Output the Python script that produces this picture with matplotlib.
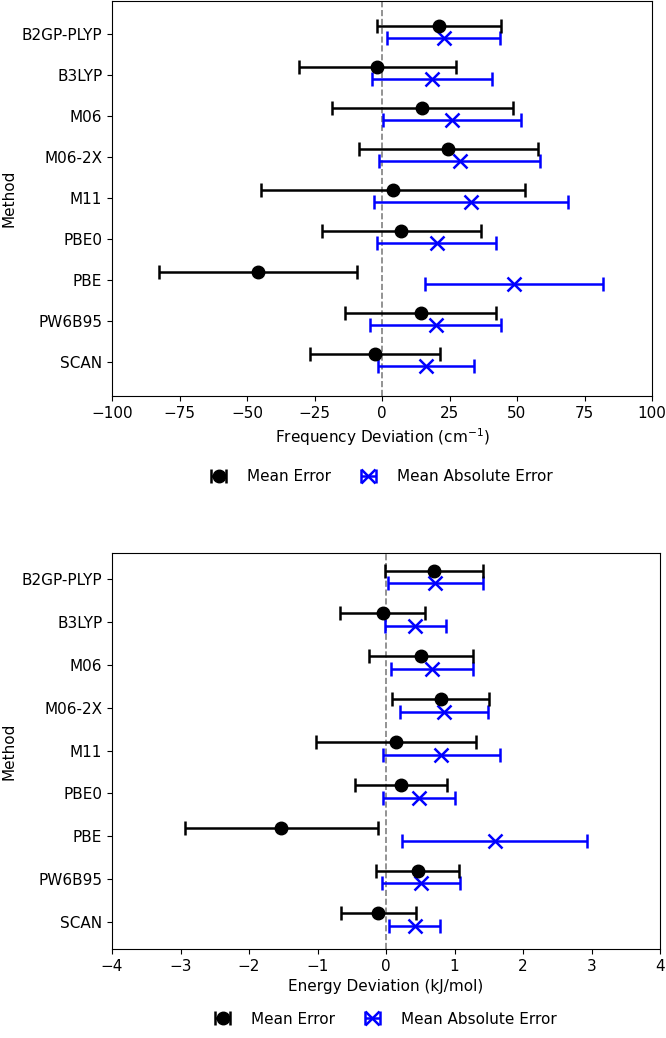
import matplotlib
matplotlib.use("Agg")
import matplotlib.pyplot as plt
import numpy as np

methods = ["B2GP-PLYP", "B3LYP", "M06", "M06-2X", "M11", "PBE0", "PBE", "PW6B95", "SCAN"]

# frequency deviations (cm^-1)
freq_me = [21.0, -1.7, 14.9, 24.5, 4.0, 7.2, -46.0, 14.3, -2.6]
freq_me_err = [22.9, 29.0, 33.5, 33.2, 48.8, 29.3, 36.6, 28.1, 24.1]
freq_mae = [22.8, 18.6, 25.9, 28.8, 33.1, 20.2, 48.9, 19.9, 16.2]
freq_mae_err = [20.9, 22.3, 25.7, 29.9, 35.9, 22.2, 32.8, 24.3, 17.8]

# energy deviations (kJ/mol)
en_me = [0.70, -0.05, 0.51, 0.80, 0.15, 0.22, -1.53, 0.46, -0.11]
en_me_err = [0.71, 0.62, 0.76, 0.71, 1.17, 0.67, 1.41, 0.61, 0.55]
en_mae = [0.72, 0.43, 0.67, 0.85, 0.81, 0.48, 1.59, 0.51, 0.42]
en_mae_err = [0.69, 0.45, 0.60, 0.64, 0.85, 0.52, 1.35, 0.57, 0.37]

fig = plt.figure(figsize=(6.66, 10.38), dpi=100)
ax1 = fig.add_axes([112/666, 642/1038, 540/666, 395/1038])
ax2 = fig.add_axes([112/666, 89/1038, 548/666, 396/1038])

y = np.arange(len(methods))[::-1]


def panel(ax, me, me_err, mae, mae_err, xlim, ylim, xlabel, leg_y):
    ax.axvline(0, color="gray", linestyle="--", linewidth=1.2, zorder=1)
    ax.errorbar(me, y + 0.2, xerr=me_err, fmt="o", color="black", ecolor="black",
                markersize=9, capsize=5, elinewidth=1.8, capthick=1.8, label="Mean Error", zorder=3)
    ax.errorbar(mae, y - 0.1, xerr=mae_err, fmt="x", color="blue", ecolor="blue",
                markersize=10, markeredgewidth=1.8, capsize=5, elinewidth=1.8, capthick=1.8,
                label="Mean Absolute Error", zorder=2)
    ax.set_yticks(y)
    ax.set_yticklabels(methods)
    ax.set_xlim(*xlim)
    ax.set_ylim(*ylim)
    ax.set_xlabel(xlabel, fontsize=11)
    ax.set_ylabel("Method", fontsize=11)
    ax.tick_params(labelsize=11)
    ax.legend(loc="center", bbox_to_anchor=(0.5, leg_y), ncol=2, frameon=False,
              fontsize=11, handlelength=0.9, handletextpad=1.4, columnspacing=2.0)


panel(ax1, freq_me, freq_me_err, freq_mae, freq_mae_err, (-100, 100), (-0.83, 8.80),
      "Frequency Deviation (cm$^{-1}$)", -0.205)
panel(ax2, en_me, en_me_err, en_mae, en_mae_err, (-4, 4), (-0.63, 8.61),
      "Energy Deviation (kJ/mol)", -0.177)

fig.savefig("out.png", dpi=100)
